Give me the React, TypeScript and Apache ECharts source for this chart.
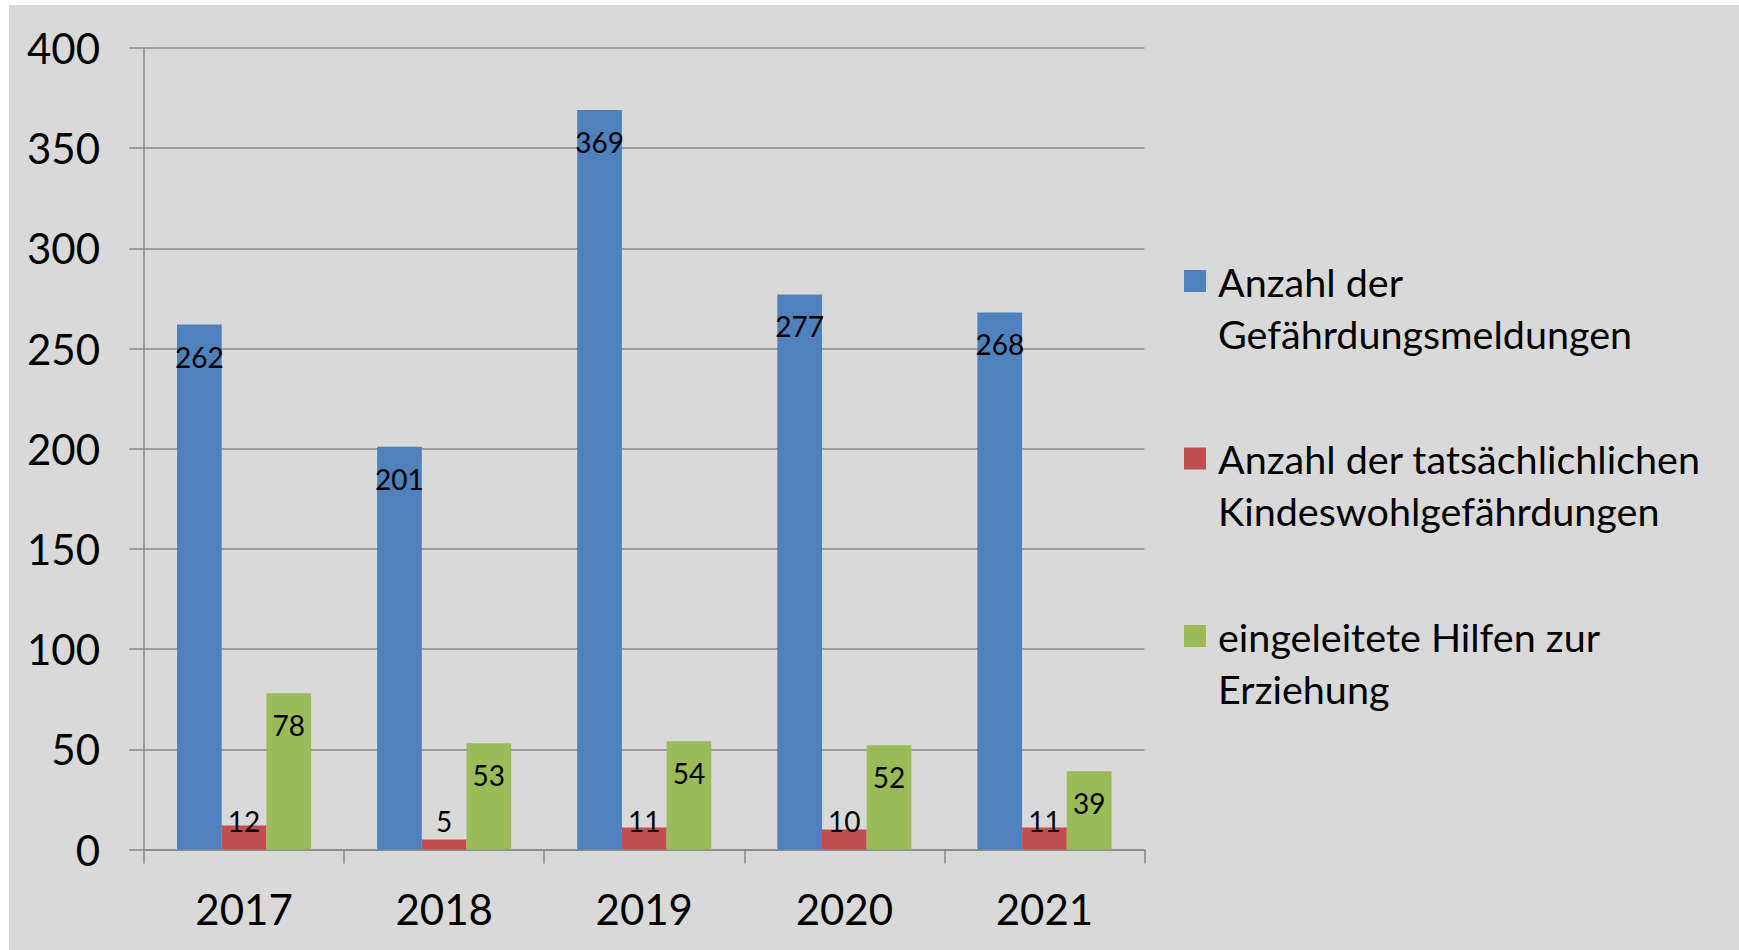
import React, { useEffect, useRef } from "react";
import * as echarts from "echarts";

const years = ["2017", "2018", "2019", "2020", "2021"];
const meldungen = [262, 201, 369, 277, 268];
const kindeswohl = [12, 5, 11, 10, 11];
const hilfen = [78, 53, 54, 52, 39];
const seriesNames = [
  "Anzahl der\nGefährdungsmeldungen",
  "Anzahl der tatsächlichlichen\nKindeswohlgefährdungen",
  "eingeleitete Hilfen zur\nErziehung",
];
const seriesColors = ["#4f81bd", "#c0504d", "#9bbb59"];

const FONT = "Lato";
const GRID_COLOR = "#898989";

export default function App() {
  const ref = useRef<HTMLDivElement>(null);
  useEffect(() => {
    if (!ref.current) return;
    const chart = echarts.init(ref.current, undefined, { renderer: "svg" });
    const insideTopLabel = {
      show: true,
      position: "insideTop",
      distance: 18,
      color: "#000",
      fontFamily: FONT,
      fontSize: 28,
      lineHeight: 28,
    };
    const values = [meldungen, kindeswohl, hilfen];
    chart.setOption({
      animation: false,
      backgroundColor: "#d9d9d9",
      textStyle: { fontFamily: FONT },
      grid: { left: 135, top: 43, right: 594.5, bottom: 100.5, containLabel: false },
      legend: {
        orient: "vertical",
        left: 1175,
        top: 198,
        padding: 0,
        itemGap: 21.5,
        itemWidth: 22,
        itemHeight: 22,
        icon: "rect",
        selectedMode: false,
        formatter: (name: string) => "\n" + name,
        textStyle: {
          fontFamily: FONT,
          fontSize: 39.5,
          lineHeight: 52,
          color: "#000",
          padding: [0, 0, 0, 7],
        },
        data: seriesNames,
      },
      xAxis: {
        type: "category",
        data: years,
        axisLine: { show: true, lineStyle: { color: GRID_COLOR, width: 1.5 } },
        axisTick: { show: true, length: 14, lineStyle: { color: GRID_COLOR, width: 1.5 } },
        axisLabel: { color: "#000", fontFamily: FONT, fontSize: 42, margin: 38 },
      },
      yAxis: {
        type: "value",
        min: 0,
        max: 400,
        interval: 50,
        axisLine: { show: true, lineStyle: { color: GRID_COLOR, width: 1.5 } },
        axisTick: { show: true, length: 15, lineStyle: { color: GRID_COLOR, width: 1.5 } },
        axisLabel: { color: "#000", fontFamily: FONT, fontSize: 42, margin: 44 },
        splitLine: { show: true, lineStyle: { color: GRID_COLOR, width: 1.5 } },
      },
      series: seriesNames.map((name, i) => ({
        name,
        type: "bar",
        data: values[i],
        barGap: "0%",
        barCategoryGap: "33%",
        itemStyle: { color: seriesColors[i] },
        label:
          i === 1
            ? { ...insideTopLabel, position: "insideBottom", distance: 15 }
            : insideTopLabel,
      })),
    });
    return () => chart.dispose();
  }, []);
  return (
    <div style={{ position: "fixed", left: 0, top: 0, width: 1739, height: 950, background: "#fff" }}>
      <div
        ref={ref}
        style={{ position: "absolute", left: 9, top: 5, width: 1730, height: 945 }}
      />
    </div>
  );
}
